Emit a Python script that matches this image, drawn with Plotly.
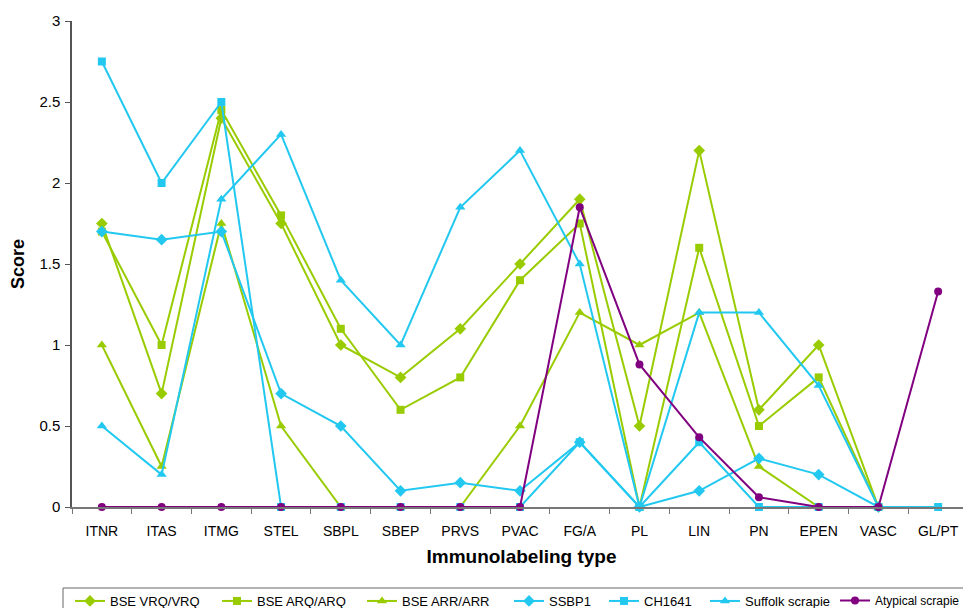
import plotly.graph_objects as go

categories = ["ITNR", "ITAS", "ITMG", "STEL", "SBPL", "SBEP", "PRVS", "PVAC",
              "FG/A", "PL", "LIN", "PN", "EPEN", "VASC", "GL/PT"]

bse_vrq = [1.75, 0.7, 2.4, 1.75, 1.0, 0.8, 1.1, 1.5, 1.9, 0.5, 2.2, 0.6, 1.0, 0, None]
bse_arq = [1.7, 1.0, 2.45, 1.8, 1.1, 0.6, 0.8, 1.4, 1.75, 0, 1.6, 0.5, 0.8, 0, None]
bse_arr = [1.0, 0.25, 1.75, 0.5, 0, 0, 0, 0.5, 1.2, 1.0, 1.2, 0.25, 0, 0, None]
ssbp1 = [1.7, 1.65, 1.7, 0.7, 0.5, 0.1, 0.15, 0.1, 0.4, 0, 0.1, 0.3, 0.2, 0, None]
ch1641 = [2.75, 2.0, 2.5, 0, 0, 0, 0, 0, 0.4, 0, 0.4, 0, 0, 0, 0]
suffolk = [0.5, 0.2, 1.9, 2.3, 1.4, 1.0, 1.85, 2.2, 1.5, 0, 1.2, 1.2, 0.75, 0, None]
atypical = [0, 0, 0, 0, 0, 0, 0, 0, 1.85, 0.88, 0.43, 0.06, 0, 0, 1.33]

GREEN = "#99cc00"
BLUE = "#22c8f0"
PURPLE = "#800080"

series = [
    ("BSE VRQ/VRQ", bse_vrq, GREEN, "diamond", 9),
    ("BSE ARQ/ARQ", bse_arq, GREEN, "square", 8),
    ("BSE ARR/ARR", bse_arr, GREEN, "triangle-up", 9),
    ("SSBP1", ssbp1, BLUE, "diamond", 9),
    ("CH1641", ch1641, BLUE, "square", 8),
    ("Suffolk scrapie", suffolk, BLUE, "triangle-up", 9),
    ("Atypical scrapie", atypical, PURPLE, "circle", 8),
]

# on-screen left position of each legend entry's symbol (page has an 8px body margin)
legend_starts = [75, 222, 367, 514, 609, 710, 840]
legend_sizes = [13, 13, 13, 13, 13, 13, 12]

W, H = 963, 600
L, T = 64, 13
PLOT_H = 486
B = H - T - PLOT_H
PLOT_W = W - L
BOTTOM = T + PLOT_H  # figure y of the plot bottom
PAGE_OFF = 8

fig = go.Figure()
legend_layouts = {}
for i, (name, vals, color, sym, size) in enumerate(series):
    key = "legend" if i == 0 else f"legend{i + 1}"
    fig.add_trace(go.Scatter(
        x=categories, y=vals, name=name, mode="lines+markers",
        line=dict(color=color, width=2),
        marker=dict(color=color, symbol=sym, size=size),
        cliponaxis=False, connectgaps=False, legend=key,
    ))
    fig_x = legend_starts[i] - 5 - PAGE_OFF
    legend_layouts[key] = dict(
        orientation="h", x=(fig_x - L) / PLOT_W, y=(BOTTOM - 578) / PLOT_H,
        xanchor="left", yanchor="top",
        font=dict(size=legend_sizes[i], family="Liberation Sans, Arial, sans-serif"),
        borderwidth=0, bgcolor="rgba(0,0,0,0)", itemwidth=30,
    )

fig.update_layout(
    width=W, height=H,
    margin=dict(l=L, r=0, t=T, b=B, autoexpand=False),
    plot_bgcolor="white", paper_bgcolor="white",
    font=dict(family="Liberation Sans, Arial, sans-serif", color="black"),
    showlegend=True,
    shapes=[dict(
        type="rect", xref="paper", yref="paper",
        x0=(55 - L) / PLOT_W, x1=1.02,
        y0=(BOTTOM - 630) / PLOT_H, y1=(BOTTOM - 580) / PLOT_H,
        line=dict(color="#666666", width=1), fillcolor="rgba(0,0,0,0)",
    )],
    xaxis=dict(
        type="category", range=[-0.5, 14.55], automargin=False,
        showgrid=False, showline=True, linecolor="#777777", linewidth=1.5,
        ticks="outside", tickson="boundaries", ticklen=5, tickcolor="#777777",
        tickfont=dict(size=14), ticklabelstandoff=10,
        title=dict(text="<b>Immunolabeling type</b>", font=dict(size=19), standoff=12),
    ),
    yaxis=dict(
        range=[0, 3], dtick=0.5, tick0=0, automargin=False,
        showgrid=False, showline=True, linecolor="#555555", linewidth=1.5,
        ticks="outside", ticklen=5, tickcolor="#555555",
        tickfont=dict(size=15), zeroline=False, ticklabelstandoff=2,
        title=dict(text="<b>Score</b>", font=dict(size=18), standoff=14),
    ),
    **legend_layouts,
)

fig.write_html("out.html")
